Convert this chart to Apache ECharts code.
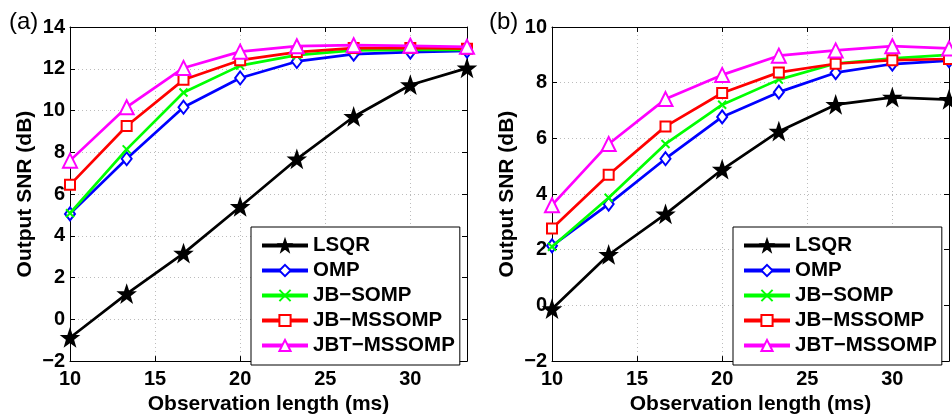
<!DOCTYPE html>
<html>
<head>
<meta charset="utf-8">
<script src="https://cdn.jsdelivr.net/npm/echarts@6/dist/echarts.min.js"></script>
<style>
  html, body { margin: 0; padding: 0; background: #fff; }
  #chart { width: 952px; height: 420px; }
</style>
</head>
<body>
<div id="chart"></div>
<script>
// Observation lengths (ms) shared by both panels
const obsLength = [10, 13.33, 16.67, 20, 23.33, 26.67, 30, 33.33];
const seriesNames = ['LSQR', 'OMP', 'JB\u2212SOMP', 'JB\u2212MSSOMP', 'JBT\u2212MSSOMP'];
const seriesColors = ['#000000', '#0000ff', '#00ff00', '#ff0000', '#ff00ff'];

// Panel (a): output SNR (dB)
const lsqrA      = [-0.88, 1.22, 3.16, 5.39, 7.67, 9.70, 11.22, 12.03];
const ompA       = [5.05, 7.69, 10.16, 11.56, 12.35, 12.70, 12.80, 12.85];
const jbSompA    = [5.08, 8.14, 10.86, 12.15, 12.65, 12.88, 12.90, 12.90];
const jbMssompA  = [6.44, 9.26, 11.47, 12.41, 12.80, 12.99, 13.00, 12.96];
const jbtMssompA = [7.60, 10.16, 12.04, 12.82, 13.08, 13.13, 13.10, 13.05];

// Panel (b): output SNR (dB)
const lsqrB      = [-0.13, 1.82, 3.28, 4.88, 6.25, 7.21, 7.47, 7.39];
const ompB       = [2.14, 3.64, 5.27, 6.77, 7.66, 8.36, 8.67, 8.79];
const jbSompB    = [2.11, 3.87, 5.80, 7.21, 8.11, 8.69, 8.87, 9.00];
const jbMssompB  = [2.76, 4.69, 6.43, 7.63, 8.37, 8.68, 8.81, 8.85];
const jbtMssompB = [3.60, 5.80, 7.41, 8.28, 8.97, 9.16, 9.31, 9.23];

const panelA = [lsqrA, ompA, jbSompA, jbMssompA, jbtMssompA];
const panelB = [lsqrB, ompB, jbSompB, jbMssompB, jbtMssompB];

const FONT = '"Liberation Sans", Arial, Helvetica, sans-serif';

const starPath = 'path://M0,-10L2.35,-3.24L9.51,-3.09L3.8,1.24L5.88,8.09L0,4L-5.88,8.09L-3.8,1.24L-9.51,-3.09L-2.35,-3.24Z';
const crossPath = 'path://M0,0L10,10M10,0L0,10';
const markerDefs = [
  { symbol: starPath, size: 15 },
  { symbol: 'emptyDiamond', size: [10, 13] },
  { symbol: crossPath, size: 8 },
  { symbol: 'emptyRect', size: 10 },
  { symbol: 'emptyTriangle', size: 14 }
];

function minusSign(v) {
  return String(v).replace('-', '\u2212');
}

function bottomX(gridIndex) {
  return {
    type: 'value', gridIndex: gridIndex, position: 'bottom',
    min: 10, max: 33.33, interval: 5,
    name: 'Observation length (ms)', nameLocation: 'middle', nameGap: 31,
    nameTextStyle: { fontFamily: FONT, fontSize: 21, fontWeight: 'bold', color: '#000' },
    axisLine: { show: true, onZero: false, lineStyle: { color: '#000', width: 1 } },
    axisTick: { show: true, inside: true, length: 5, lineStyle: { color: '#000' } },
    axisLabel: {
      fontFamily: FONT, fontSize: 20, fontWeight: 'bold', color: '#000', margin: 8,
      formatter: function (v) { return (Math.abs(v % 5) < 1e-6) ? String(v) : ''; }
    },
    splitLine: { show: true, lineStyle: { color: '#bcbcbc', type: [1, 3], width: 1 } }
  };
}

function topX(gridIndex) {
  return {
    type: 'value', gridIndex: gridIndex, position: 'top',
    min: 10, max: 33.33, interval: 5,
    axisLine: { show: true, onZero: false, lineStyle: { color: '#000', width: 1 } },
    axisTick: { show: true, inside: true, length: 5, lineStyle: { color: '#000' } },
    axisLabel: { show: false },
    splitLine: { show: false }
  };
}

function leftY(gridIndex, min, max) {
  return {
    type: 'value', gridIndex: gridIndex, position: 'left',
    min: min, max: max, interval: 2,
    name: 'Output SNR (dB)', nameLocation: 'middle', nameGap: 34,
    nameTextStyle: { fontFamily: FONT, fontSize: 21, fontWeight: 'bold', color: '#000' },
    axisLine: { show: true, onZero: false, lineStyle: { color: '#000', width: 1 } },
    axisTick: { show: true, inside: true, length: 5, lineStyle: { color: '#000' } },
    axisLabel: {
      fontFamily: FONT, fontSize: 20, fontWeight: 'bold', color: '#000', margin: 5,
      formatter: minusSign
    },
    splitLine: { show: true, lineStyle: { color: '#bcbcbc', type: [1, 3], width: 1 } }
  };
}

function rightY(gridIndex, min, max) {
  return {
    type: 'value', gridIndex: gridIndex, position: 'right',
    min: min, max: max, interval: 2,
    axisLine: { show: true, onZero: false, lineStyle: { color: '#000', width: 1 } },
    axisTick: { show: true, inside: true, length: 5, lineStyle: { color: '#000' } },
    axisLabel: { show: false },
    splitLine: { show: false }
  };
}

function panelSeries(values, axisIndex) {
  return values.map(function (ys, i) {
    const m = markerDefs[i];
    return {
      name: seriesNames[i],
      type: 'line',
      xAxisIndex: axisIndex, yAxisIndex: axisIndex,
      data: obsLength.map(function (x, k) { return [x, ys[k]]; }),
      symbol: m.symbol,
      symbolSize: m.size,
      showAllSymbol: true,
      lineStyle: { color: seriesColors[i], width: 2.7 },
      itemStyle: { color: seriesColors[i], borderColor: seriesColors[i], borderWidth: 2 },
      emphasis: { disabled: true },
      animation: false,
      z: 2 + i
    };
  });
}

function legendFor(left, top) {
  return {
    orient: 'vertical', left: left, top: top,
    data: seriesNames,
    backgroundColor: '#fff', borderColor: '#000', borderWidth: 1,
    padding: [8, 5, 9, 9], itemGap: 4, itemWidth: 46, itemHeight: 14,
    lineStyle: { width: 4 },
    textStyle: { fontFamily: FONT, fontSize: 20.5, fontWeight: 'bold', color: '#000' },
    selectedMode: false,
    inactiveColor: '#000'
  };
}

const chart = echarts.init(document.getElementById('chart'), null, { renderer: 'canvas' });
chart.setOption({
  backgroundColor: '#ffffff',
  animation: false,
  title: [
    { text: '(a)', left: 4, top: 5, textStyle: { fontFamily: FONT, fontSize: 24, fontWeight: 'normal', color: '#000' } },
    { text: '(b)', left: 484, top: 5, textStyle: { fontFamily: FONT, fontSize: 24, fontWeight: 'normal', color: '#000' } }
  ],
  grid: [
    { left: 70, top: 27, right: 485, bottom: 50, containLabel: false },
    { left: 552, top: 27, right: 3, bottom: 50, containLabel: false }
  ],
  xAxis: [bottomX(0), topX(0), bottomX(1), topX(1)],
  yAxis: [leftY(0, -2, 14), rightY(0, -2, 14), leftY(1, -2, 10), rightY(1, -2, 10)],
  legend: [legendFor(251, 227), legendFor(733, 227)],
  series: panelSeries(panelA, 0).concat(panelSeries(panelB, 2))
});
</script>
</body>
</html>
